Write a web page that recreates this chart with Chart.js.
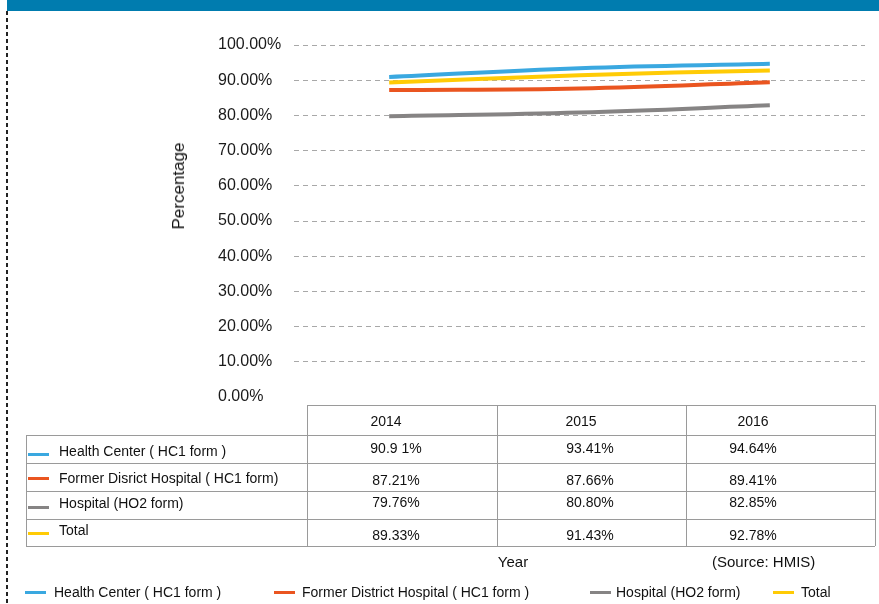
<!DOCTYPE html>
<html>
<head>
<meta charset="utf-8">
<script src="https://cdn.jsdelivr.net/npm/chart.js@4"></script>
<style>
  html, body { margin: 0; padding: 0; background: #fff; }
  body { width: 879px; height: 604px; position: relative; overflow: hidden; font-family: "Liberation Sans", Arial, Helvetica, sans-serif; color: #111; }
  #header { position: absolute; left: 7px; top: 0; width: 872px; height: 11px; background: #007CAF; }
  #dash { position: absolute; left: 6px; top: 11px; width: 1.5px; height: 593px; background: repeating-linear-gradient(to bottom, #222 0px, #222 4px, transparent 4px, transparent 7px); }
  #c { position: absolute; left: 0; top: 0; }
  .t { position: absolute; white-space: nowrap; line-height: 1; }
  .c { transform: translate(-50%, -50%); }
  .l { transform: translate(0, -50%); }
  .hl { position: absolute; height: 0; border-top: 1px solid #9a9a9a; }
  .vl { position: absolute; width: 0; border-left: 1px solid #9a9a9a; }
  .sw { position: absolute; width: 21px; height: 3px; }
  #ytitle { position: absolute; left: 179px; top: 186px; transform: translate(-50%, -50%) rotate(-90deg); font-size: 17px; white-space: nowrap; color: #111; }
</style>
</head>
<body>
<div id="header"></div>
<div id="dash"></div>
<canvas id="c" width="879" height="604"></canvas>
<div id="ytitle">Percentage</div>
<div id="overlay"></div>
<script>
// ---- data ----
const years = ['2014', '2015', '2016'];
const legendLabels = ['Health Center ( HC1 form )', 'Former District Hospital ( HC1 form )', 'Hospital (HO2 form)', 'Total'];
const tableLabels = ['Health Center ( HC1 form )', 'Former Disrict Hospital ( HC1 form)', 'Hospital (HO2 form)', 'Total'];
const healthCenter = [90.91, 93.41, 94.64];
const formerDistrictHospital = [87.21, 87.66, 89.41];
const hospitalHO2 = [79.76, 80.80, 82.85];
const total = [89.33, 91.43, 92.78];
const tableText = [
  ['90.9 1%', '93.41%', '94.64%'],
  ['87.21%', '87.66%', '89.41%'],
  ['79.76%', '80.80%', '82.85%'],
  ['89.33%', '91.43%', '92.78%']
];
const yTicks = [0, 10, 20, 30, 40, 50, 60, 70, 80, 90, 100];
const colors = ['#3AA8E0', '#EA5520', '#868484', '#FFCB05'];
const seriesValues = [healthCenter, formerDistrictHospital, hospitalHO2, total];

// ---- chart ----
const ctx = document.getElementById('c').getContext('2d');
new Chart(ctx, {
  type: 'line',
  data: {
    labels: years,
    datasets: seriesValues.map((vals, i) => ({
      label: legendLabels[i],
      data: vals,
      borderColor: colors[i],
      backgroundColor: colors[i],
      borderWidth: 4,
      pointRadius: 0,
      tension: 0.4,
      fill: false,
      order: i === 3 ? -1 : i
    }))
  },
  options: {
    responsive: false,
    animation: false,
    layout: { padding: { left: 218, top: 45, right: 14, bottom: 207 } },
    plugins: { legend: { display: false }, tooltip: { enabled: false }, title: { display: false } },
    scales: {
      x: { display: false, offset: true },
      y: {
        min: 0, max: 100,
        afterFit: s => { s.width = 76; },
        afterBuildTicks: s => { s.ticks = yTicks.map(v => ({ value: v })); },
        border: { display: false, dash: [5, 4] },
        grid: {
          drawTicks: false,
          color: c => (c.tick && c.tick.value === 0) ? 'rgba(0,0,0,0)' : '#a8a8a8',
          lineWidth: 1
        },
        ticks: {
          crossAlign: 'far',
          padding: 0,
          color: '#1a1a1a',
          font: { family: '"Liberation Sans", Arial, sans-serif', size: 16 },
          callback: v => v.toFixed(2) + '%'
        }
      }
    }
  }
});

// ---- table & legend overlay ----
const ov = document.getElementById('overlay');
function add(html) { ov.insertAdjacentHTML('beforeend', html); }
function text(str, x, y, cls, size) {
  add(`<div class="t ${cls}" style="left:${x}px;top:${y}px;font-size:${size}px">${str}</div>`);
}
// grid lines
add(`<div class="hl" style="left:307px;top:405px;width:568px"></div>`);
[435, 463, 491, 519, 546].forEach(y => add(`<div class="hl" style="left:26px;top:${y}px;width:849px"></div>`));
add(`<div class="vl" style="left:26px;top:435px;height:111px"></div>`);
[307, 497, 686, 875].forEach(x => add(`<div class="vl" style="left:${x}px;top:405px;height:141px"></div>`));

const headX = [386, 581, 753];
years.forEach((y, i) => text(y, headX[i], 421, 'c', 14));
const valX = [396, 590, 753];
const rowY = [448, 480, 502, 535];
const labY = [451, 478, 503, 530];
const swY = [453, 477, 506, 532];
tableText.forEach((row, r) => {
  row.forEach((s, j) => text(s, valX[j], rowY[r], 'c', 14));
  text(tableLabels[r], 59, labY[r], 'l', 14);
  add(`<div class="sw" style="left:28px;top:${swY[r]}px;background:${colors[r]}"></div>`);
});
text('Year', 513, 561, 'c', 15);
text('(Source: HMIS)', 712, 561, 'l', 15);

const legSwX = [25, 274, 590, 773];
const legTxtX = [54, 302, 616, 801];
legendLabels.forEach((s, i) => {
  add(`<div class="sw" style="left:${legSwX[i]}px;top:591px;background:${colors[i]}"></div>`);
  text(s, legTxtX[i], 592, 'l', 14);
});
</script>
</body>
</html>
